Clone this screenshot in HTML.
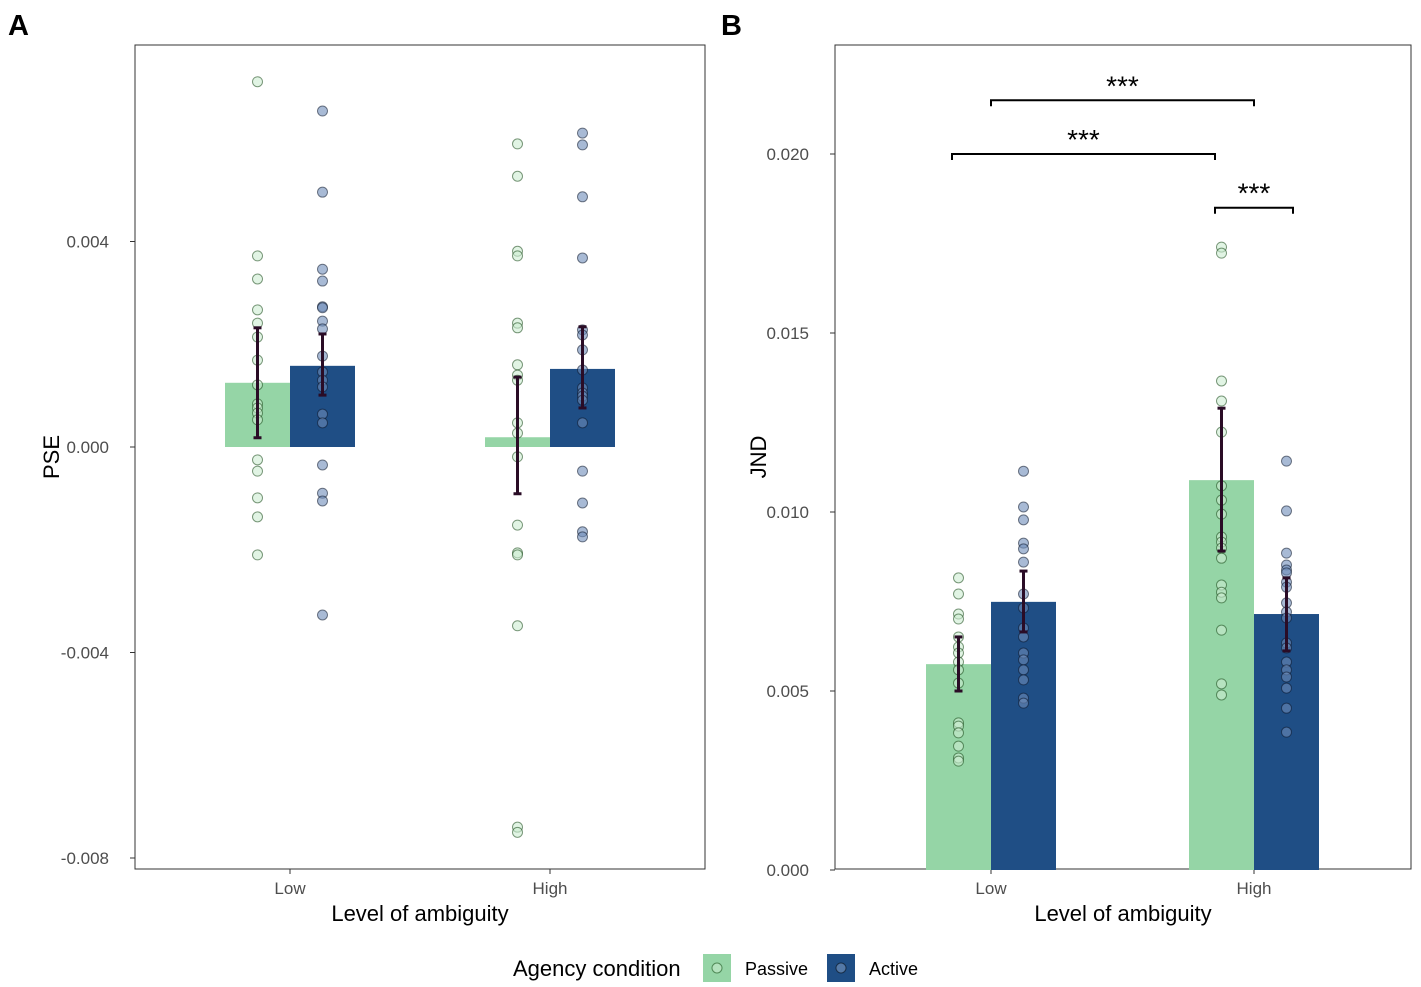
<!DOCTYPE html>
<html><head><meta charset="utf-8"><style>
html,body{margin:0;padding:0;background:#fff;}
svg{display:block;font-family:"Liberation Sans",Arial,sans-serif;}
</style></head><body>
<svg id="chart" width="1421" height="987" viewBox="0 0 1421 987" xmlns="http://www.w3.org/2000/svg">
<text x="8" y="35" font-size="29" font-weight="bold">A</text>
<text x="721" y="35" font-size="29" font-weight="bold">B</text>
<g id="pa"></g>
<g id="pb"></g>
<g>
<text x="513" y="976" font-size="22">Agency condition</text>
<g>
<rect x="703" y="954" width="28" height="28" fill="#95d5a6"/>
<circle cx="717" cy="968" r="5" fill="rgba(200,235,205,0.6)" stroke="rgba(0,60,0,0.5)"/>
<text x="745" y="975" font-size="18">Passive</text></g>
<g>
<rect x="827" y="954" width="28" height="28" fill="#1f4e85"/>
<circle cx="841" cy="968" r="5" fill="rgba(120,150,190,0.6)" stroke="rgba(0,0,0,0.5)"/>
<text x="869" y="975" font-size="18">Active</text></g>
</g>
</svg>
<script>
const NS="http://www.w3.org/2000/svg";
const categories=["Low","High"];
const groups=["Passive","Active"];
// Panel A (PSE)
const pseMeans=[[0.00125,0.00158],[0.00019,0.00152]];
const pseErrLo=[[0.00018,0.00101],[-0.00091,0.00076]];
const pseErrHi=[[0.00232,0.0022],[0.00136,0.00234]];
const psePoints=[
 [[0.00711,0.00372,0.00327,0.00267,0.00241,0.00214,0.00169,0.00121,0.00084,0.00076,0.00066,0.00053,-0.00025,-0.00047,-0.00099,-0.00136,-0.0021],
  [0.00654,0.00496,0.00346,0.00323,0.00273,0.00271,0.00245,0.0023,0.00177,0.00146,0.0013,0.00117,0.00064,0.00047,-0.00035,-0.0009,-0.00105,-0.00327]],
 [[0.0059,0.00527,0.00381,0.00372,0.00241,0.00232,0.0016,0.0014,0.0013,0.00047,0.00027,-0.00019,-0.00152,-0.00206,-0.0021,-0.00348,-0.0074,-0.0075],
  [0.00611,0.00588,0.00487,0.00368,0.00228,0.00218,0.00189,0.0015,0.00115,0.00105,0.00099,0.00091,0.00047,-0.00047,-0.00109,-0.00165,-0.00175]]];
const pseTicks=[0.004,0.000,-0.004,-0.008];
const pseTickLabels=["0.004","0.000","-0.004","-0.008"];
// Panel B (JND)
const jndMeans=[[0.00575,0.00749],[0.01089,0.00715]];
const jndErrLo=[[0.005,0.00665],[0.00891,0.00612]];
const jndErrHi=[[0.00651,0.00835],[0.0129,0.00816]];
const jndPoints=[
 [[0.00816,0.00771,0.00715,0.00701,0.00651,0.00623,0.00606,0.00581,0.00559,0.00522,0.00411,0.00402,0.00383,0.00346,0.00313,0.00304],
  [0.01114,0.01014,0.00978,0.00913,0.00897,0.0086,0.00771,0.00732,0.00676,0.00651,0.00606,0.00587,0.00559,0.00531,0.0048,0.00466]],
 [[0.0174,0.01723,0.01366,0.0131,0.01223,0.01073,0.01033,0.00994,0.0093,0.00916,0.00899,0.00871,0.00796,0.00776,0.0076,0.0067,0.0052,0.00489],
  [0.01142,0.01003,0.00885,0.00852,0.00838,0.0083,0.00804,0.0079,0.00746,0.00721,0.00704,0.00634,0.0062,0.00581,0.00559,0.00539,0.00508,0.00452,0.00385]]];
const jndTicks=[0.020,0.015,0.010,0.005,0.000];
const jndTickLabels=["0.020","0.015","0.010","0.005","0.000"];
// bracket ends: [category index, offset in bar widths from category center]
const sigBrackets=[{from:[0,-0.6],to:[1,-0.6],y:0.0200,label:"***"},{from:[0,0],to:[1,0],y:0.0215,label:"***"},{from:[1,-0.6],to:[1,0.6],y:0.0185,label:"***"}];

const fills=["#95d5a6","#1f4e85"];
const ptFill=["rgba(205,236,210,0.6)","rgba(110,140,185,0.6)"];
const ptStroke=["rgba(20,70,20,0.55)","rgba(10,20,40,0.55)"];

function mk(parent,tag,attrs){const e=document.createElementNS(NS,tag);for(const k in attrs)e.setAttribute(k,attrs[k]);parent.appendChild(e);return e;}

function panel(g,cfg){
 const {L,R,T,B,v0,y0,v1,y1,cats,means,lo,hi,pts,ticks,tickLabels,ylab}=cfg;
 const y=v=>y0+(v-v0)*(y1-y0)/(v1-v0);
 const cx=i=>cats[i];
 const bw=cfg.bw;
 const frame=mk(g,"rect",{x:L,y:T,width:R-L,height:B-T,fill:"none",stroke:"#333","stroke-width":1});
 
 
 ticks.forEach((t,i)=>{
  const ty=y(t);
  const tk=mk(g,"line",{x1:L-5,x2:L,y1:ty,y2:ty,stroke:"#333"});
  
  
  const tl=mk(g,"text",{x:L-26,y:ty+6,"text-anchor":"end","font-size":17,fill:"#4d4d4d"});
  tl.textContent=tickLabels[i];
  
  
 });
 categories.forEach((c,i)=>{
  const tk=mk(g,"line",{x1:cx(i),x2:cx(i),y1:B,y2:B+5,stroke:"#333"});
  
  
  const tl=mk(g,"text",{x:cx(i),y:B+25,"text-anchor":"middle","font-size":17,fill:"#4d4d4d"});
  tl.textContent=c;
  
  
 });
 const xt=mk(g,"text",{x:(L+R)/2,y:B+52,"text-anchor":"middle","font-size":22});
 xt.textContent="Level of ambiguity";
 
 
 const yt=mk(g,"text",{x:0,y:0,"text-anchor":"middle","font-size":22,transform:`translate(${cfg.ylx},${(T+B)/2}) rotate(-90)`});
 yt.textContent=ylab;
 
 
 for(let i=0;i<2;i++)for(let j=0;j<2;j++){
  const x0=cx(i)+(j?0:-bw);
  const yb=y(0),ym=y(means[i][j]);
  const bar=mk(g,"rect",{x:x0,y:Math.min(yb,ym),width:bw,height:Math.abs(yb-ym),fill:fills[j]});
  
  
 }
 for(let i=0;i<2;i++)for(let j=0;j<2;j++){
  const px=cx(i)+(j?bw/2:-bw/2);
  pts[i][j].forEach(v=>{
   const c=mk(g,"circle",{cx:px,cy:y(v),r:5,fill:ptFill[j],stroke:ptStroke[j],"stroke-width":1});
   
   
  });
 }
 for(let i=0;i<2;i++)for(let j=0;j<2;j++){
  const px=cx(i)+(j?bw/2:-bw/2);
  const eg=mk(g,"g",{stroke:"#2a0c26","stroke-width":3});
  
  
  mk(eg,"line",{x1:px,x2:px,y1:y(lo[i][j]),y2:y(hi[i][j])});
  mk(eg,"line",{x1:px-4,x2:px+4,y1:y(lo[i][j]),y2:y(lo[i][j])});
  mk(eg,"line",{x1:px-4,x2:px+4,y1:y(hi[i][j]),y2:y(hi[i][j])});
 }
 return {y,cx,bw};
}

panel(document.getElementById("pa"),{L:135,R:705,T:45,B:869,v0:0,y0:447,v1:0.004,y1:241.5,cats:[290,550],bw:65,
 means:pseMeans,lo:pseErrLo,hi:pseErrHi,pts:psePoints,ticks:pseTicks,tickLabels:pseTickLabels,ylab:"PSE",ylx:59});
const pb=panel(document.getElementById("pb"),{L:835,R:1411,T:45,B:869,v0:0,y0:870,v1:0.005,y1:691,cats:[991,1254],bw:65,
 means:jndMeans,lo:jndErrLo,hi:jndErrHi,pts:jndPoints,ticks:jndTicks,tickLabels:jndTickLabels,ylab:"JND",ylx:766});
const gb=document.getElementById("pb");
sigBrackets.forEach(s=>{
 const xa=pb.cx(s.from[0])+s.from[1]*pb.bw;
 const xb=pb.cx(s.to[0])+s.to[1]*pb.bw;
 const yy=pb.y(s.y);
 const br=mk(gb,"path",{d:`M${xa},${yy+6}V${yy}H${xb}V${yy+6}`,fill:"none",stroke:"#000","stroke-width":2});
 
 
 const t=mk(gb,"text",{x:(xa+xb)/2,y:yy-5,"text-anchor":"middle","font-size":28});
 t.textContent=s.label;
 
 
});
</script>
</body></html>
